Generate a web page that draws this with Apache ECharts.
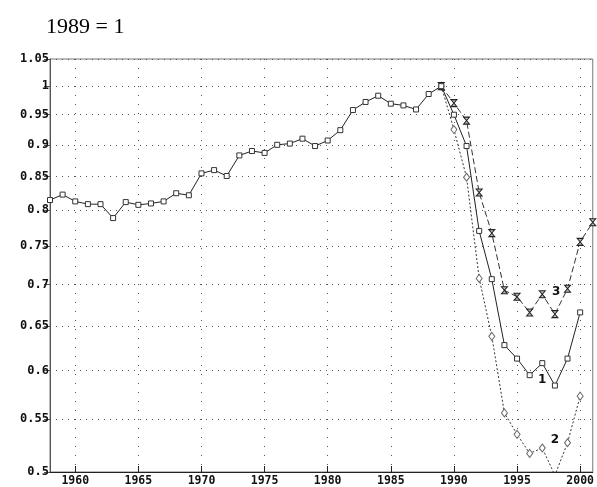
<!DOCTYPE html>
<html>
<head>
<meta charset="utf-8">
<script src="https://cdn.jsdelivr.net/npm/echarts@6/dist/echarts.min.js"></script>
<style>
  html, body { margin: 0; padding: 0; background: #fff; }
  #chart { width: 597px; height: 487px; }
</style>
</head>
<body>
<div id="chart"></div>
<script>
// Index series, 1989 = 1
const years1 = [1958, 1959, 1960, 1961, 1962, 1963, 1964, 1965, 1966, 1967, 1968, 1969,
  1970, 1971, 1972, 1973, 1974, 1975, 1976, 1977, 1978, 1979, 1980, 1981, 1982, 1983,
  1984, 1985, 1986, 1987, 1988, 1989, 1990, 1991, 1992, 1993, 1994, 1995, 1996, 1997,
  1998, 1999, 2000];
const index1 = [0.815, 0.823, 0.813, 0.809, 0.809, 0.789, 0.812, 0.808, 0.810, 0.813,
  0.825, 0.822, 0.855, 0.860, 0.851, 0.883, 0.890, 0.887, 0.900, 0.902, 0.910, 0.898,
  0.907, 0.924, 0.958, 0.972, 0.983, 0.969, 0.966, 0.959, 0.986, 1.000, 0.950, 0.898,
  0.771, 0.707, 0.628, 0.613, 0.595, 0.608, 0.584, 0.613, 0.666];

const years2 = [1989, 1990, 1991, 1992, 1993, 1994, 1995, 1996, 1997, 1998, 1999, 2000];
const index2 = [1.000, 0.925, 0.849, 0.708, 0.638, 0.556, 0.535, 0.517, 0.522, 0.497, 0.527, 0.573];

const years3 = [1989, 1990, 1991, 1992, 1993, 1994, 1995, 1996, 1997, 1998, 1999, 2000, 2001];
const index3 = [1.000, 0.970, 0.940, 0.826, 0.768, 0.693, 0.685, 0.666, 0.688, 0.664, 0.695, 0.756, 0.783];

const yTicks = [0.5, 0.55, 0.6, 0.65, 0.7, 0.75, 0.8, 0.85, 0.9, 0.95, 1, 1.05];
const xTicks = [1960, 1965, 1970, 1975, 1980, 1985, 1990, 1995, 2000];

// Series number tags placed in data space
const seriesTags = [
  { tag: '1', year: 1997, value: 0.590 },
  { tag: '2', year: 1998, value: 0.530 },
  { tag: '3', year: 1998.1, value: 0.691 }
];

const Y_MIN = 0.5, Y_MAX = 1.05;

// Pair up years and values; points below the axis floor keep the line but drop the marker
const zip = (xs, ys) => xs.map((x, i) =>
  ys[i] < Y_MIN ? { value: [x, ys[i]], symbol: 'none' } : [x, ys[i]]);

const tagPoint = (t) => ({
  data: [{ coord: [t.year, t.value], value: t.tag }],
  symbol: 'circle', symbolSize: 0,
  label: { show: true, position: 'inside', formatter: t.tag,
    fontFamily: 'DejaVu Sans', fontWeight: 'bold', fontSize: 12, color: '#111' }
});

const hourglass = 'path://M0,0 L10,0 L0,12 L10,12 Z';

const chart = echarts.init(document.getElementById('chart'), null, { renderer: 'canvas' });
chart.setOption({
  animation: false,
  backgroundColor: '#fff',
  title: {
    text: '1989 = 1', left: 41, top: 11,
    textStyle: { fontFamily: 'Liberation Serif', fontWeight: 'normal', fontSize: 22, color: '#000' }
  },
  grid: {
    left: 50, top: 59, width: 545, height: 414,
    show: true, borderColor: '#777', borderWidth: 1, backgroundColor: 'transparent'
  },
  xAxis: {
    type: 'value', min: 1958, max: 2001,
    axisLine: { show: true, lineStyle: { color: '#222', width: 1 } },
    axisTick: { show: true, inside: true, length: 6, customValues: xTicks, lineStyle: { color: '#222' } },
    axisLabel: {
      customValues: xTicks, margin: 3, color: '#111',
      fontFamily: 'DejaVu Sans Mono', fontWeight: 'bold', fontSize: 11.5,
      formatter: (v) => String(Math.round(v))
    },
    splitLine: { show: true, lineStyle: { color: '#555', width: 1, type: [1, 8] } }
  },
  yAxis: {
    type: 'log', logBase: 10, min: Y_MIN, max: Y_MAX,
    axisLine: { show: true, lineStyle: { color: '#555', width: 1 } },
    axisTick: { show: true, inside: false, length: 6, customValues: yTicks, lineStyle: { color: '#555' } },
    axisLabel: {
      customValues: yTicks, margin: 1, color: '#111',
      fontFamily: 'DejaVu Sans Mono', fontWeight: 'bold', fontSize: 12,
      formatter: (v) => String(+(+v).toFixed(2))
    },
    splitLine: { show: true, lineStyle: { color: '#555', width: 1, type: [1, 5] } },
    minorTick: { show: false }
  },
  series: [
    {
      name: '1', type: 'line', data: zip(years1, index1),
      symbol: 'rect', symbolSize: 5, z: 4,
      lineStyle: { color: '#222', width: 1 },
      itemStyle: { color: '#fff', borderColor: '#333', borderWidth: 1 },
      markPoint: tagPoint(seriesTags[0])
    },
    {
      name: '2', type: 'line', data: zip(years2, index2),
      symbol: 'diamond', symbolSize: [6, 8], z: 3,
      lineStyle: { color: '#333', width: 1, type: [2, 2] },
      itemStyle: { color: '#fff', borderColor: '#666', borderWidth: 1 },
      markPoint: tagPoint(seriesTags[1])
    },
    {
      name: '3', type: 'line', data: zip(years3, index3),
      symbol: hourglass, symbolSize: [6, 7], z: 3,
      lineStyle: { color: '#333', width: 1, type: [6, 3] },
      itemStyle: { color: '#bbb', borderColor: '#222', borderWidth: 1 },
      markPoint: tagPoint(seriesTags[2])
    }
  ]
});
</script>
</body>
</html>
